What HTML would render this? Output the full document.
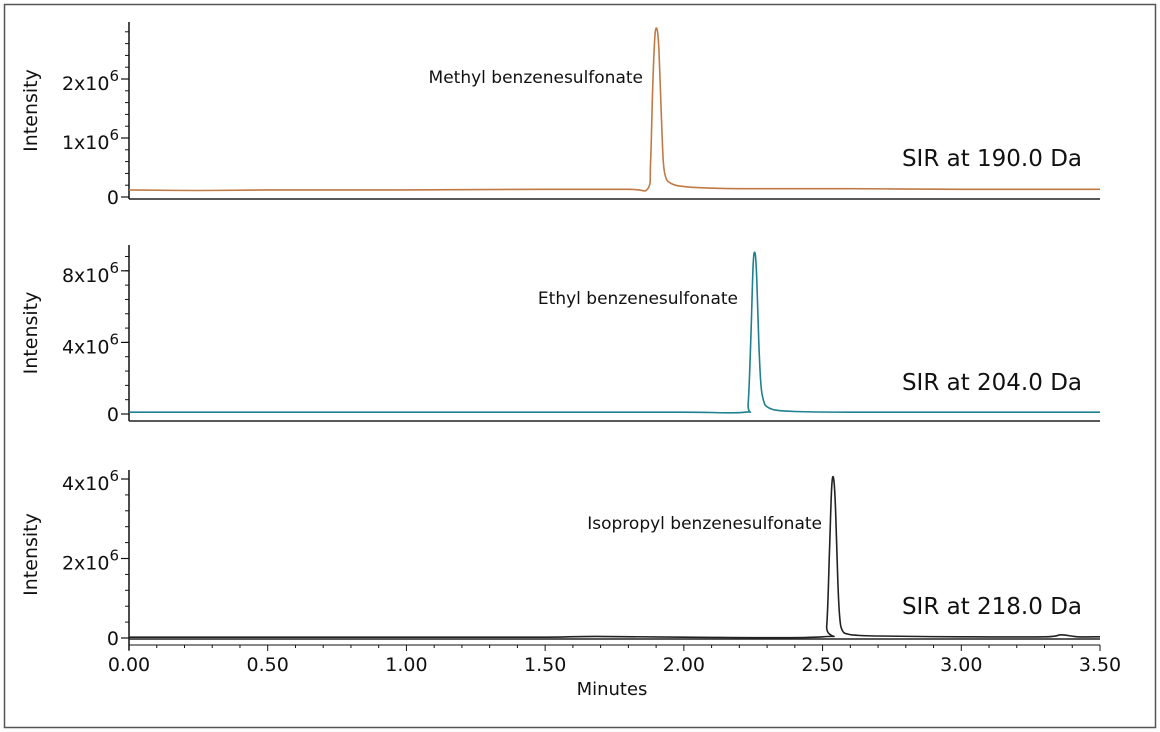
<!DOCTYPE html>
<html><head><meta charset="utf-8"><style>
html,body{margin:0;padding:0;background:#fff;}
svg{display:block;font-family:"DejaVu Sans","Liberation Sans",sans-serif;}
</style></head><body>
<svg id="chart" width="1160" height="732" viewBox="0 0 1160 732">
<rect x="4.5" y="4.5" width="1151" height="723" fill="#fff" stroke="#555" stroke-width="1.5"/>
</svg>
<script>
// Shared x axis
const xTicks = [0, 0.5, 1.0, 1.5, 2.0, 2.5, 3.0, 3.5];
const xTickLabels = ["0.00","0.50","1.00","1.50","2.00","2.50","3.00","3.50"];

// Panel 1: SIR 190.0 Da (Methyl benzenesulfonate)
const p1Times = [0, 0.25, 0.5, 1.0, 1.5, 1.8, 1.87, 1.88, 1.888, 1.896, 1.904, 1.91, 1.918, 1.926, 1.935, 1.95, 1.98, 2.05, 2.2, 2.6, 3.0, 3.5];
const p1Values = [0.12, 0.11, 0.12, 0.12, 0.13, 0.13, 0.14, 0.6, 1.9, 2.75, 2.83, 2.5, 1.5, 0.6, 0.33, 0.24, 0.19, 0.16, 0.14, 0.14, 0.13, 0.13];
const p1Ticks = [0, 1, 2];
const p1TickLabels = ["0", "1x10", "2x10"];

// Panel 2: SIR 204.0 Da (Ethyl benzenesulfonate)
const p2Times = [0, 0.5, 1.0, 1.5, 2.0, 2.22, 2.232, 2.242, 2.25, 2.257, 2.263, 2.27, 2.278, 2.288, 2.3, 2.33, 2.4, 2.6, 3.0, 3.5];
const p2Values = [0.1, 0.1, 0.1, 0.1, 0.1, 0.1, 0.6, 4.5, 8.4, 8.95, 7.5, 4.0, 1.6, 0.7, 0.4, 0.22, 0.14, 0.1, 0.1, 0.1];
const p2Ticks = [0, 4, 8];
const p2TickLabels = ["0", "4x10", "8x10"];

// Panel 3: SIR 218.0 Da (Isopropyl benzenesulfonate)
const p3Times = [0, 0.5, 1.0, 1.5, 1.68, 2.0, 2.5, 2.515, 2.525, 2.533, 2.54, 2.547, 2.554, 2.562, 2.572, 2.59, 2.62, 2.7, 3.0, 3.3, 3.36, 3.42, 3.5];
const p3Values = [0.02, 0.02, 0.02, 0.02, 0.04, 0.02, 0.03, 0.3, 2.2, 3.8, 4.0, 3.2, 1.6, 0.5, 0.18, 0.1, 0.07, 0.05, 0.03, 0.03, 0.08, 0.03, 0.03];
const p3Ticks = [0, 2, 4];
const p3TickLabels = ["0", "2x10", "4x10"];

const svg = document.getElementById('chart');
const NS = 'http://www.w3.org/2000/svg';
const X0 = 129, X1 = 1100, XMAX = 3.5;
const xScale = t => X0 + (X1 - X0) * t / XMAX;
function mk(tag, attrs, parent) {
  const e = document.createElementNS(NS, tag);
  for (const k in attrs) e.setAttribute(k, attrs[k]);
  (parent || svg).appendChild(e);
  return e;
}
function smoothPath(pts) {
  let d = 'M' + pts[0][0].toFixed(1) + ',' + pts[0][1].toFixed(1);
  for (let i = 0; i < pts.length - 1; i++) {
    const p0 = pts[Math.max(0, i-1)], p1 = pts[i], p2 = pts[i+1], p3 = pts[Math.min(pts.length-1, i+2)];
    const c1x = p1[0] + (p2[0]-p0[0])/6, c1y = p1[1] + (p2[1]-p0[1])/6;
    const c2x = p2[0] - (p3[0]-p1[0])/6, c2y = p2[1] - (p3[1]-p1[1])/6;
    d += ` C${c1x.toFixed(1)},${c1y.toFixed(1)} ${c2x.toFixed(1)},${c2y.toFixed(1)} ${p2[0].toFixed(1)},${p2[1].toFixed(1)}`;
  }
  return d;
}

const panels = [
  {times:p1Times, vals:p1Values, ticks:p1Ticks, labels:p1TickLabels, zeroY:197, top:22, unit:59, axisY:199, color:'#c07a45', cmp:'Methyl benzenesulfonate', cmpX:643, cmpY:83, sir:'SIR at 190.0 Da', sirY:166, name:'panel-190'},
  {times:p2Times, vals:p2Values, ticks:p2Ticks, labels:p2TickLabels, zeroY:414, top:245, unit:17.9, axisY:421, color:'#1f8090', cmp:'Ethyl benzenesulfonate', cmpX:738, cmpY:304, sir:'SIR at 204.0 Da', sirY:390, name:'panel-204'},
  {times:p3Times, vals:p3Values, ticks:p3Ticks, labels:p3TickLabels, zeroY:638, top:470, unit:39.75, axisY:639, color:'#222', cmp:'Isopropyl benzenesulfonate', cmpX:822, cmpY:529, sir:'SIR at 218.0 Da', sirY:614, name:'panel-218'}
];

panels.forEach(p => {
  const g = mk('g', {});
  
  
  const yScale = v => p.zeroY - v * p.unit;
  const ya = mk('line', {x1:X0, x2:X0, y1:p.top, y2:p.axisY + (p.name==='panel-218'?11:0), stroke:'#111', 'stroke-width':1.5}, g);
  
  
  const step = (p.ticks[1]-p.ticks[0]) / 5;
  for (let v = 0; yScale(v) >= p.top; v += step) {
    const mt = mk('line', {x1:X0-4, x2:X0, y1:yScale(v), y2:yScale(v), stroke:'#111', 'stroke-width':1}, g);
    
    
  }
  p.ticks.forEach((v, i) => {
    const y = yScale(v);
    const t = mk('line', {x1:X0-8, x2:X0, y1:y, y2:y, stroke:'#111', 'stroke-width':1.2}, g);
    
    
    const tx = mk('text', {x:X0-10, y:y+7, 'text-anchor':'end', 'font-size':19, fill:'#111'}, g);
    
    
    tx.textContent = p.labels[i];
    if (i > 0) {
      const sup = mk('tspan', {dy:-9, 'font-size':15}, tx);
      
      
      sup.textContent = '6';
      tx.setAttribute('y', y+11);
    }
  });
  const xa = mk('line', {x1:X0, x2:X1, y1:p.axisY, y2:p.axisY, stroke:'#222', 'stroke-width':1.5}, g);
  
  
  const ytl = mk('text', {x:0, y:0, transform:`translate(37,${(p.top+p.axisY)/2}) rotate(-90)`, 'text-anchor':'middle', 'font-size':19, fill:'#111'}, g);
  
  
  ytl.textContent = 'Intensity';
  const pts = p.times.map((t, i) => [xScale(t), yScale(p.vals[i])]);
  const path = mk('path', {d:smoothPath(pts), fill:'none', stroke:p.color, 'stroke-width':1.6, 'stroke-linejoin':'round'}, g);
  
  
  const c = mk('text', {x:p.cmpX, y:p.cmpY, 'text-anchor':'end', 'font-size':17, fill:'#111'}, g);
  
  
  c.textContent = p.cmp;
  const s = mk('text', {x:1082, y:p.sirY, 'text-anchor':'end', 'font-size':23, fill:'#111'}, g);
  
  
  s.textContent = p.sir;
});

const xg = mk('g', {});


for (let k = 0; k <= 35; k++) {
  const t = k / 10;
  const major = k % 5 === 0;
  const mt = mk('line', {x1:xScale(t), x2:xScale(t), y1:645, y2:major?651:648, stroke:'#111', 'stroke-width':1}, xg);
  
  
}
const xl = mk('line', {x1:X0, x2:X1, y1:645, y2:645, stroke:'#111', 'stroke-width':1}, xg);


xTicks.forEach((t, i) => {
  const tx = mk('text', {x:xScale(t), y:671, 'text-anchor':'middle', 'font-size':19, fill:'#111'}, xg);
  
  
  tx.textContent = xTickLabels[i];
});
const xt = mk('text', {x:612, y:695, 'text-anchor':'middle', 'font-size':18, fill:'#111'}, xg);


xt.textContent = 'Minutes';
</script>
</body></html>
